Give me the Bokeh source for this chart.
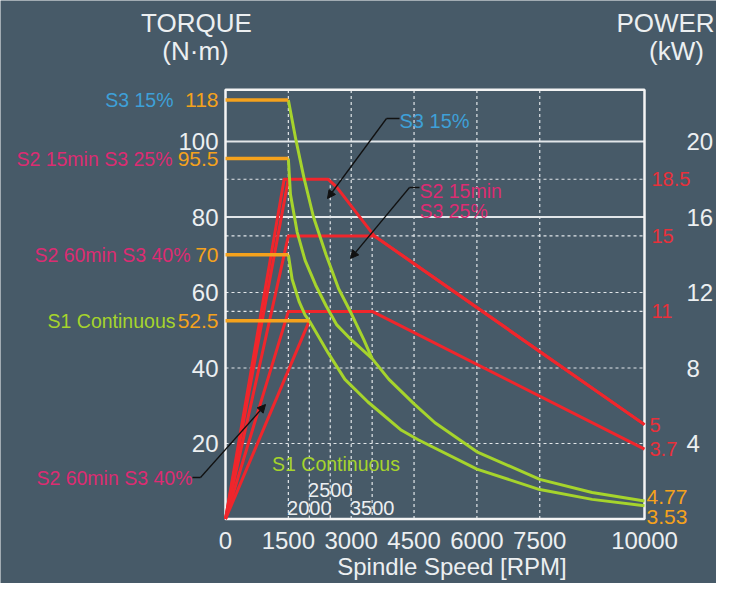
from bokeh.plotting import figure
from bokeh.models import Range1d, LinearAxis, FixedTicker, Arrow, NormalHead
from bokeh.core.properties import value
from bokeh.embed import file_html
from bokeh.resources import INLINE

# ---------------- data ----------------
speed_ticks = [0, 1500, 3000, 4500, 6000, 7500, 10000]
torque_ticks = [20, 40, 60, 80, 100]
power_ticks = [4, 8, 12, 16, 20]
solid_torque_grid = [80, 100]
dashed_torque_grid = [20, 40, 60]
speed_grid = [1500, 3000, 4500, 6000, 7500]

# constant-torque levels (118 is drawn compressed in the original, at ~111)
torque_level_names = ["S3 15%", "S2 15min S3 25%", "S2 60min S3 40%", "S1 Continuous"]
torque_level_labels = ["118", "95.5", "70", "52.5"]
torque_level_values = [111.0, 95.5, 70.0, 52.5]
torque_level_end_speed = [1500, 1500, 1500, 2000]

# torque curves (N·m)
s3_15_speed = [1500, 1670, 1870, 2100, 2400, 2700, 3000, 3300, 3500]
s3_15_torque = [111.0, 101.0, 90.5, 80.0, 70.0, 61.0, 54.5, 47.5, 42.5]
s3_25_speed = [1500, 1550, 1710, 1900, 2150, 2400, 2650, 3000, 3500]
s3_25_torque = [95.5, 86.0, 76.0, 68.5, 62.0, 56.5, 51.5, 47.5, 42.5]
upper_tail_speed = [3500, 3900, 4500, 5000, 6000, 7500, 8750, 10000]
upper_tail_torque = [42.5, 37.0, 30.5, 25.5, 17.8, 10.5, 7.0, 4.77]
s2_60_speed = [1500, 1590, 1760, 1900, 2000]
s2_60_torque = [70.0, 63.5, 57.5, 54.0, 52.5]
s1_speed = [2000, 2450, 2850, 3400, 4200, 4600, 6000, 7500, 8750, 10000]
s1_torque = [52.5, 44.0, 37.0, 31.0, 23.5, 21.0, 13.2, 7.8, 5.2, 3.53]

# power curves (kW)
p_s3_15_speed = [0, 1400, 1500]
p_s3_15_power = [0.0, 18.0, 18.0]
p_s3_25_speed = [0, 1500, 2450, 2650, 3550, 10000]
p_s3_25_power = [0.0, 18.0, 18.0, 17.6, 15.0, 5.0]
p_s2_60_speed = [0, 1500, 3550, 10000]
p_s2_60_power = [0.0, 15.0, 15.0, 5.0]
p_s1_speed = [0, 1500, 3500, 10000]
p_s1_power = [0.0, 11.0, 11.0, 3.7]
p_s1_rise_speed = [0, 2000]
p_s1_rise_power = [0.0, 10.5]

power_level_labels = ["18.5", "15", "11"]
power_level_values = [18.0, 15.0, 11.0]
power_end_labels = ["5", "3.7"]
power_end_values = [5.0, 3.7]
torque_end_labels = ["4.77", "3.53"]
torque_end_values = [4.77, 3.53]

drop_speeds = [2000, 2500, 3500]
drop_power = [11.0, 18.0, 15.0]
drop_labels = ["2000", "2500", "3500"]

# ---------------- layout / style ----------------
W, H = 716, 583
PX_LEFT, PX_RIGHT, PX_TOP, PX_BOTTOM = 225.0, 644.0, 89.3, 518.5
X_MAX = 10000.0
Y_TOP = 113.7
SX = (PX_RIGHT - PX_LEFT) / X_MAX
SY = (PX_BOTTOM - PX_TOP) / Y_TOP

def px2x(px):
    return (px - PX_LEFT) / SX

def px2y(py):
    return (PX_BOTTOM - py) / SY

FONT = "Liberation Sans"
BG = "#475a68"
WHITE = "#eceff1"
GRID = "#e2e6e9"
GREEN = "#a6d42c"
RED = "#f0262c"
ORANGE = "#f5a21c"
MAGENTA = "#dc2c72"
BLUE = "#3ea0d8"
RED_TXT = "#e8303a"
name_colors = [BLUE, MAGENTA, MAGENTA, GREEN]
name_offsets = [-52, -53, -35, -50]

p = figure(width=W, height=H, output_backend="svg", toolbar_location=None,
           x_range=Range1d(px2x(0), px2x(W)), y_range=Range1d(px2y(H), px2y(0)),
           min_border=0, background_fill_color=BG, border_fill_color=BG,
           outline_line_color=None, x_axis_location=None, y_axis_location=None)
p.extra_y_ranges = {"power": Range1d(px2y(H) / 5, px2y(0) / 5)}
p.xgrid.visible = False
p.ygrid.visible = False

def style_axis(ax, standoff):
    ax.axis_line_color = None
    ax.major_tick_line_color = None
    ax.minor_tick_line_color = None
    ax.major_tick_out = 0
    ax.major_tick_in = 0
    ax.major_label_standoff = standoff
    ax.major_label_text_color = WHITE
    ax.major_label_text_font = FONT
    ax.major_label_text_font_size = "24px"

xax = LinearAxis(fixed_location=0, ticker=FixedTicker(ticks=speed_ticks), bounds=(0, 10800),
                 axis_label="Spindle Speed [RPM]")
style_axis(xax, 13)
xax.axis_label_text_font = FONT
xax.axis_label_text_font_size = "24px"
xax.axis_label_text_font_style = "normal"
xax.axis_label_text_color = WHITE
xax.axis_label_standoff = 0
p.add_layout(xax, "below")

yax = LinearAxis(fixed_location=0, ticker=FixedTicker(ticks=torque_ticks), bounds=(0, Y_TOP))
style_axis(yax, 7)
p.add_layout(yax, "left")

rax = LinearAxis(fixed_location=X_MAX, y_range_name="power", ticker=FixedTicker(ticks=power_ticks),
                 bounds=(0, Y_TOP / 5))
style_axis(rax, 42)
p.add_layout(rax, "right")

# grid lines, limited to the chart box
DASH = dict(line_color=GRID, line_dash="3 3", line_width=1.2)
p.segment(x0=speed_grid, x1=speed_grid, y0=[0] * len(speed_grid), y1=[Y_TOP] * len(speed_grid), **DASH)
p.segment(x0=[0] * 2, x1=[X_MAX] * 2, y0=solid_torque_grid, y1=solid_torque_grid,
          line_color=GRID, line_width=1.8)
p.segment(x0=[0] * 3, x1=[X_MAX] * 3, y0=dashed_torque_grid, y1=dashed_torque_grid, **DASH)
p.segment(x0=[0] * 3, x1=[X_MAX] * 3, y0=power_level_values, y1=power_level_values,
          y_range_name="power", **DASH)
# drop lines from the corner points
p.segment(x0=drop_speeds, y0=drop_power, x1=drop_speeds, y1=[0] * len(drop_speeds),
          y_range_name="power", **DASH)

# chart box
p.quad(left=[0], right=[X_MAX], bottom=[0], top=[Y_TOP], fill_color=None,
       line_color="#f4f4f4", line_width=2.5)

# power curves
for xs, ys in [(p_s3_15_speed, p_s3_15_power), (p_s3_25_speed, p_s3_25_power),
               (p_s2_60_speed, p_s2_60_power), (p_s1_speed, p_s1_power),
               (p_s1_rise_speed, p_s1_rise_power)]:
    p.line(xs, ys, y_range_name="power", line_color=RED, line_width=3, line_join="round")

# torque curves
for xs, ys in [(s3_15_speed, s3_15_torque), (s3_25_speed, s3_25_torque),
               (upper_tail_speed, upper_tail_torque), (s2_60_speed, s2_60_torque),
               (s1_speed, s1_torque)]:
    p.line(xs, ys, line_color=GREEN, line_width=3, line_join="round")

# constant torque lines
for lvl, end in zip(torque_level_values, torque_level_end_speed):
    p.line([0, end], [lvl, lvl], line_color=ORANGE, line_width=3.5)

def tx(texts, xs, ys, color, size, align="left", dx=0, dy=0, rng="default"):
    p.text(x=xs, y=ys, text=texts, x_offset=dx, y_offset=dy, text_color=color,
           text_font=value(FONT), text_font_size=size, text_align=align,
           text_baseline="middle", y_range_name=rng)

# titles
tx(["TORQUE"], [px2x(196)], [px2y(22)], WHITE, "26px", "center")
tx(["(N\u00b7m)"], [px2x(195)], [px2y(50)], WHITE, "26px", "center")
tx(["POWER"], [px2x(665)], [px2y(22)], WHITE, "26px", "center")
tx(["(kW)"], [px2x(676)], [px2y(50)], WHITE, "26px", "center")

# left level labels
for name, txt, lvl, col, off in zip(torque_level_names, torque_level_labels,
                                    torque_level_values, name_colors, name_offsets):
    tx([txt], [0], [lvl], ORANGE, "21px", "right", dx=-7)
    tx([name], [0], [lvl], col, "19.5px", "right", dx=off)

# right labels
tx(power_level_labels, [X_MAX] * 3, power_level_values, RED_TXT, "20px", "left", dx=7, rng="power")
tx(power_end_labels, [X_MAX] * 2, power_end_values, RED_TXT, "20px", "left", dx=5, rng="power")
tx([torque_end_labels[0]], [X_MAX], [torque_end_values[0]], ORANGE, "21px", "left", dx=2, dy=-4)
tx([torque_end_labels[1]], [X_MAX], [torque_end_values[1]], ORANGE, "21px", "left", dx=2, dy=11)

# drop line speed labels
tx([drop_labels[1]], [drop_speeds[1]], [0], WHITE, "20px", "center", dy=-29)
tx([drop_labels[0], drop_labels[2]], [drop_speeds[0], drop_speeds[2]], [0, 0], WHITE, "20px",
   "center", dy=-11)

# inner annotations
tx(["S1 Continuous"], [px2x(335.5)], [px2y(463)], GREEN, "19.5px", "center")
tx(["S3 15%"], [px2x(399)], [px2y(120)], BLUE, "20px", "left")
tx(["S2 15min"], [px2x(419)], [px2y(190)], MAGENTA, "19.5px", "left")
tx(["S3 25%"], [px2x(419)], [px2y(210)], MAGENTA, "19.5px", "left")
tx(["S2 60min S3 40%"], [px2x(192)], [px2y(477)], MAGENTA, "19.5px", "right")

# leader arrows: (label end, bend, tip) in pixels of the original layout
leaders = [((399, 118), (386, 118), (327, 198)),
           ((419, 187), (409, 187), (350, 258)),
           ((192, 477), (200, 477), (265, 404))]
for (a, b, c) in leaders:
    p.add_layout(Arrow(x_start=px2x(a[0]), y_start=px2y(a[1]), x_end=px2x(b[0]), y_end=px2y(b[1]),
                       end=None, line_color="#111111", line_width=1.3))
    p.add_layout(Arrow(x_start=px2x(b[0]), y_start=px2y(b[1]), x_end=px2x(c[0]), y_end=px2y(c[1]),
                       end=NormalHead(size=8, fill_color="#111111", line_color="#111111"),
                       line_color="#111111", line_width=1.3))

open("out.html", "w").write(file_html(p, INLINE))
